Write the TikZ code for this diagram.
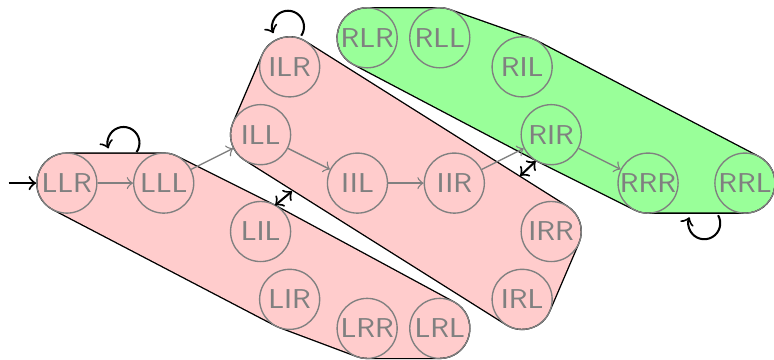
\documentclass[tikz,border=0pt]{standalone}
\usetikzlibrary{backgrounds}
\begin{document}
\begin{tikzpicture}%
[st/.style={circle, draw=gray, text=gray, inner sep=0pt, minimum size=6.2mm, font=\fontsize{8}{9.6}\sffamily},%
tr/.style={->, gray},%
bk/.style={->, semithick},%
blob/.style={line width=17.24pt, line join=round, preaction={draw=black, line width=18.04pt, line join=round}}]

\useasboundingbox (-0.69,-1.82) rectangle (7.30,1.89);

\node[st] (LLR) at (0,0) {LLR};
\node[st] (LLL) at (1,0) {LLL};
\node[st] (LIL) at (2,-0.5) {LIL};
\node[st] (LIR) at (2.3,-1.2) {LIR};
\node[st] (LRR) at (3.1,-1.5) {LRR};
\node[st] (LRL) at (3.85,-1.5) {LRL};

\node[st] (ILR) at (2.3,1.2) {ILR};
\node[st] (ILL) at (2,0.5) {ILL};
\node[st] (IIL) at (3,0) {IIL};
\node[st] (IIR) at (4,0) {IIR};
\node[st] (IRR) at (5,-0.5) {IRR};
\node[st] (IRL) at (4.7,-1.2) {IRL};

\node[st] (RLR) at (3.1,1.5) {RLR};
\node[st] (RLL) at (3.85,1.5) {RLL};
\node[st] (RIL) at (4.7,1.2) {RIL};
\node[st] (RIR) at (5,0.5) {RIR};
\node[st] (RRR) at (6,0) {RRR};
\node[st] (RRL) at (7,0) {RRL};

\begin{scope}[on background layer]
\filldraw[blob, red!20] (LLR.center) -- (LLL.center) -- (LIL.center) -- (LRL.center)
  -- (LRR.center) -- (LIR.center) -- cycle;
\filldraw[blob, red!20] (ILR.center) -- (IRR.center) -- (IRL.center) -- (ILL.center) -- cycle;
\filldraw[blob, green!40] (RLR.center) -- (RLL.center) -- (RIL.center) -- (RRL.center)
  -- (RRR.center) -- (RIR.center) -- cycle;
\end{scope}

\coordinate (start) at (-0.6,0);
\draw[bk] (start) -- (LLR);

\draw[tr] (LLR) -- (LLL);
\draw[tr] (LLL) -- (ILL);
\draw[tr] (ILL) -- (IIL);
\draw[tr] (IIL) -- (IIR);
\draw[tr] (IIR) -- (RIR);
\draw[tr] (RIR) -- (RRR);

\coordinate (L-loop) at (0.72,0.32);
\coordinate (I-loop) at (2.42,1.522);
\coordinate (R-loop) at (6.723,-0.332);
\draw[bk] (L-loop) arc[start angle=-35, end angle=200, radius=0.165];
\draw[bk] (I-loop) arc[start angle=-34, end angle=204, radius=0.165];
\draw[bk] (R-loop) arc[start angle=30, end angle=-202, radius=0.165];

\coordinate (LI-a) at (2.15,-0.23);
\coordinate (LI-b) at (2.325,-0.083);
\coordinate (IR-a) at (4.68,0.075);
\coordinate (IR-b) at (4.84,0.227);
\draw[bk, <->] (LI-a) -- (LI-b);
\draw[bk, <->] (IR-a) -- (IR-b);
\end{tikzpicture}
\end{document}
